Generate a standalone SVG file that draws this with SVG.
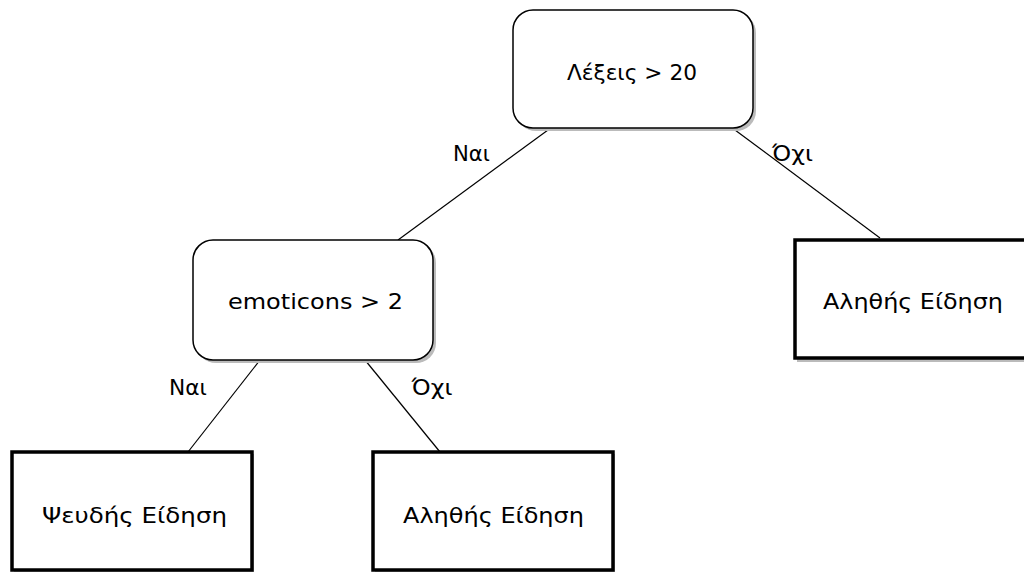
<svg xmlns="http://www.w3.org/2000/svg" width="1024" height="572" viewBox="0 0 1024 572">
<style>
.r{fill:#fff;stroke:#000;stroke-width:1.5}
.b{fill:#fff;stroke:#000;stroke-width:3.5}
.s{fill:#bbb}
.t{font-family:"DejaVu Sans",sans-serif;font-size:21px;fill:#000;text-anchor:middle;dominant-baseline:central}
.c{stroke:#000;stroke-width:1.2;fill:none}
</style>
<rect width="1024" height="572" fill="#fff"/>
<g id="connectors">
<line class="c" x1="548" y1="130" x2="398" y2="240"/>
<line class="c" x1="735" y1="130" x2="880" y2="238"/>
<line class="c" x1="260" y1="360" x2="188" y2="452"/>
<line class="c" x1="365" y1="360" x2="440" y2="452"/>
<text class="t" x="471.5" y="154" textLength="37" lengthAdjust="spacingAndGlyphs">Ναι</text>
<text class="t" x="792.5" y="154" textLength="41" lengthAdjust="spacingAndGlyphs">Όχι</text>
<text class="t" x="188" y="388" textLength="38" lengthAdjust="spacingAndGlyphs">Ναι</text>
<text class="t" x="432" y="388" textLength="41" lengthAdjust="spacingAndGlyphs">Όχι</text>
</g>
<g id="n1">
<rect class="s" x="516" y="13" width="240" height="118" rx="20"/>
<rect class="r" x="513" y="10" width="240" height="118" rx="20"/>
<text class="t" x="632" y="73" textLength="130" lengthAdjust="spacingAndGlyphs">Λέξεις &gt; 20</text>
</g>
<g id="n2">
<rect class="s" x="196" y="243" width="240" height="120" rx="20"/>
<rect class="r" x="193" y="240" width="240" height="120" rx="20"/>
<text class="t" x="315.5" y="302" textLength="175" lengthAdjust="spacingAndGlyphs">emoticons &gt; 2</text>
</g>
<g id="n3">
<rect class="s" x="797" y="242" width="240" height="120"/>
<rect class="b" x="795" y="240" width="240" height="118"/>
<text class="t" x="913" y="302" textLength="180" lengthAdjust="spacingAndGlyphs">Αληθής Είδηση</text>
</g>
<g id="n4">
<rect class="s" x="14" y="454" width="240" height="120"/>
<rect class="b" x="12" y="452" width="240" height="118"/>
<text class="t" x="134.5" y="516" textLength="185" lengthAdjust="spacingAndGlyphs">Ψευδής Είδηση</text>
</g>
<g id="n5">
<rect class="s" x="375" y="454" width="240" height="120"/>
<rect class="b" x="373" y="452" width="240" height="118"/>
<text class="t" x="493.5" y="516" textLength="181" lengthAdjust="spacingAndGlyphs">Αληθής Είδηση</text>
</g>
</svg>
